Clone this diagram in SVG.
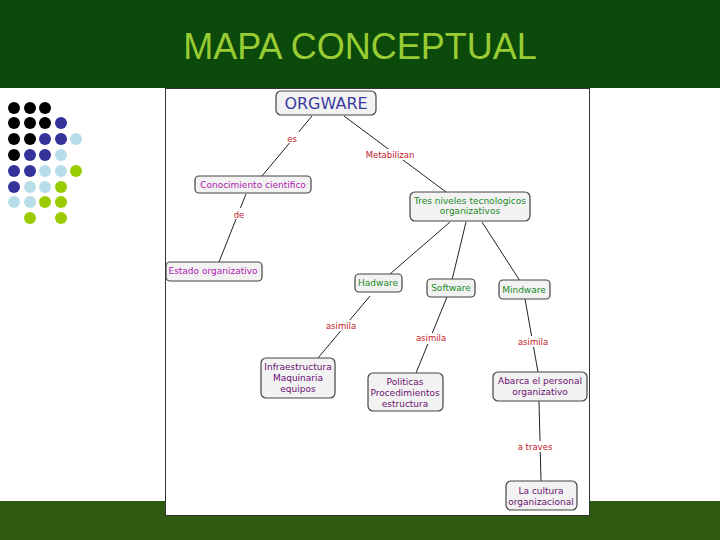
<svg xmlns="http://www.w3.org/2000/svg" width="720" height="540" viewBox="0 0 720 540">
<style>
.n{fill:#f2f2f2;stroke:#444;stroke-width:1.2}
.t{font-family:"DejaVu Sans",sans-serif;font-size:9px;text-anchor:middle}
.p{fill:#b020b0}.g{fill:#1a8a2a}.v{fill:#6a1070}.r{fill:#c0202a}
.c line{stroke:#222;stroke-width:1}
</style>
<rect width="720" height="540" fill="#fff"/>
<rect width="720" height="88" fill="#0b4a0b"/>
<text x="360" y="59" font-family="Liberation Sans,sans-serif" font-size="36" fill="#99cc33" text-anchor="middle">MAPA CONCEPTUAL</text>
<rect x="0" y="501" width="720" height="39" fill="#2e5a12"/>
<g id="dots">
<g fill="#000"><circle cx="14" cy="108" r="6"/><circle cx="30" cy="108" r="6"/><circle cx="45" cy="108" r="6"/><circle cx="14" cy="123" r="6"/><circle cx="30" cy="123" r="6"/><circle cx="45" cy="123" r="6"/><circle cx="14" cy="139" r="6"/><circle cx="30" cy="139" r="6"/><circle cx="14" cy="155" r="6"/></g>
<g fill="#333399"><circle cx="61" cy="123" r="6"/><circle cx="45" cy="139" r="6"/><circle cx="61" cy="139" r="6"/><circle cx="30" cy="155" r="6"/><circle cx="45" cy="155" r="6"/><circle cx="14" cy="171" r="6"/><circle cx="30" cy="171" r="6"/><circle cx="14" cy="187" r="6"/></g>
<g fill="#b7dde8"><circle cx="76" cy="139" r="6"/><circle cx="61" cy="155" r="6"/><circle cx="45" cy="171" r="6"/><circle cx="61" cy="171" r="6"/><circle cx="30" cy="187" r="6"/><circle cx="45" cy="187" r="6"/><circle cx="14" cy="202" r="6"/><circle cx="30" cy="202" r="6"/></g>
<g fill="#99cc00"><circle cx="76" cy="171" r="6"/><circle cx="61" cy="187" r="6"/><circle cx="45" cy="202" r="6"/><circle cx="61" cy="202" r="6"/><circle cx="30" cy="218" r="6"/><circle cx="61" cy="218" r="6"/></g>
</g>
<rect x="165.5" y="88.5" width="424" height="427" fill="#fff" stroke="#333"/>
<g class="c">
<line x1="312" y1="116" x2="262" y2="176"/><line x1="344" y1="116" x2="446" y2="192"/>
<line x1="246" y1="194" x2="219" y2="262"/>
<line x1="450" y1="222" x2="390" y2="274"/><line x1="466" y1="222" x2="452" y2="280"/><line x1="482" y1="222" x2="520" y2="281"/>
<line x1="370" y1="296" x2="318" y2="358"/><line x1="447" y1="297" x2="416" y2="373"/>
<line x1="525" y1="299" x2="538" y2="372"/><line x1="539" y1="401" x2="541" y2="481"/>
</g>
<g font-family="DejaVu Sans,sans-serif" font-size="8.5" text-anchor="middle" fill="#c0202a">
<rect x="285" y="132" width="16" height="11" fill="#fff"/><text x="292" y="142">es</text>
<rect x="365" y="149" width="50" height="11" fill="#fff"/><text x="390" y="158">Metabilizan</text>
<rect x="230" y="208" width="16" height="11" fill="#fff"/><text x="239" y="218">de</text>
<rect x="324" y="320" width="34" height="11" fill="#fff"/><text x="341" y="329">asimila</text>
<rect x="414" y="333" width="34" height="11" fill="#fff"/><text x="431" y="341">asimila</text>
<rect x="516" y="336" width="34" height="11" fill="#fff"/><text x="533" y="345">asimila</text>
<rect x="516" y="441" width="38" height="11" fill="#fff"/><text x="535" y="450">a traves</text>
</g>
<g id="orgware"><rect class="n" x="276" y="91" width="100" height="24" rx="5"/><text x="326" y="109" font-family="DejaVu Sans,sans-serif" font-size="16" fill="#3a3aa0" text-anchor="middle">ORGWARE</text></g>
<g id="conocimiento"><rect class="n" x="195" y="176" width="116" height="17" rx="4"/><text class="t p" x="253" y="188">Conocimiento cientifico</text></g>
<g id="estado"><rect class="n" x="166" y="262" width="96" height="19" rx="4"/><text class="t p" x="213" y="274">Estado organizativo</text></g>
<g id="tres"><rect class="n" x="410" y="192" width="120" height="29" rx="5"/><text class="t g" x="470" y="204">Tres niveles tecnologicos</text><text class="t g" x="470" y="214">organizativos</text></g>
<g id="hardware"><rect class="n" x="355" y="274" width="47" height="18" rx="4"/><text class="t g" x="378" y="286">Hadware</text></g>
<g id="software"><rect class="n" x="427" y="279" width="48" height="18" rx="4"/><text class="t g" x="451" y="291">Software</text></g>
<g id="mindware"><rect class="n" x="499" y="280" width="51" height="19" rx="4"/><text class="t g" x="524" y="293">Mindware</text></g>
<g id="infra"><rect class="n" x="261" y="358" width="74" height="40" rx="5"/><text class="t v" x="298" y="370">Infraestructura</text><text class="t v" x="298" y="381">Maquinaria</text><text class="t v" x="298" y="392">equipos</text></g>
<g id="politicas"><rect class="n" x="368" y="373" width="75" height="38" rx="5"/><text class="t v" x="405" y="385">Politicas</text><text class="t v" x="405" y="396">Procedimientos</text><text class="t v" x="405" y="407">estructura</text></g>
<g id="abarca"><rect class="n" x="493" y="372" width="94" height="29" rx="5"/><text class="t v" x="540" y="384">Abarca el personal</text><text class="t v" x="540" y="395">organizativo</text></g>
<g id="cultura"><rect class="n" x="506" y="481" width="71" height="29" rx="5"/><text class="t v" x="541" y="494">La cultura</text><text class="t v" x="541" y="505">organizacional</text></g>
</svg>
